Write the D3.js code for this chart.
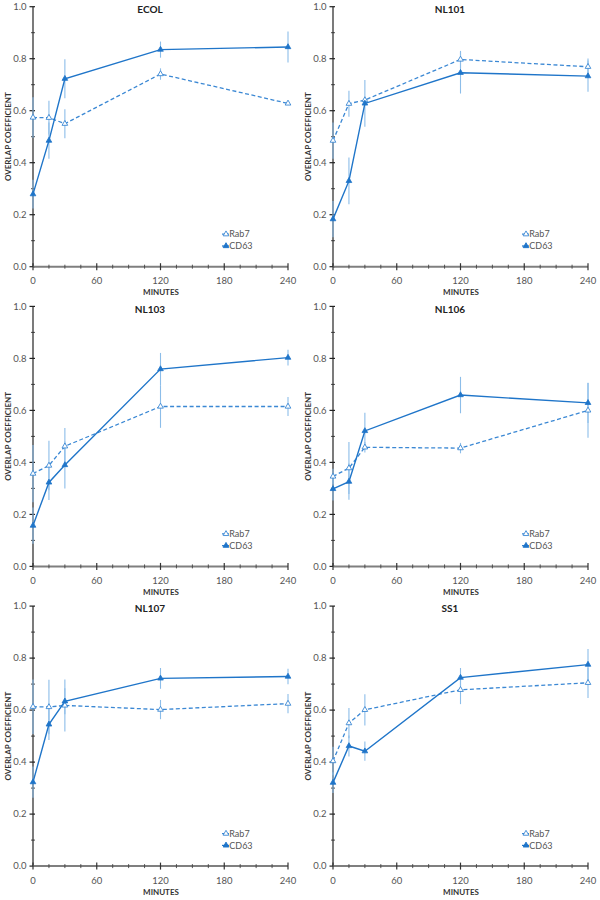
<!DOCTYPE html>
<html>
<head>
<meta charset="utf-8">
<script src="https://cdn.jsdelivr.net/npm/d3@7"></script>
<style>
  html, body { margin: 0; padding: 0; background: #fff; }
  svg { display: block; }
  text { font-family: Lato, "Open Sans", "Liberation Sans", sans-serif; }
</style>
</head>
<body>
<svg id="chart" width="600" height="900"></svg>
<script>
// ---- Data ----
const times = [0, 15, 30, 120, 240];
const panelNames = ["ECOL", "NL101", "NL103", "NL106", "NL107", "SS1"];
const seriesNames = ["Rab7", "CD63"];

const rab7Mean = [
  [0.574, 0.573, 0.550, 0.741, 0.628],
  [0.485, 0.627, 0.641, 0.797, 0.769],
  [0.357, 0.388, 0.462, 0.615, 0.615],
  [0.346, 0.378, 0.458, 0.455, 0.600],
  [0.613, 0.612, 0.618, 0.602, 0.625],
  [0.404, 0.550, 0.601, 0.678, 0.705]
];
const rab7Err = [
  [0.078, 0.065, 0.056, 0.022, 0.004],
  [0.070, 0.050, 0.010, 0.033, 0.032],
  [0.110, 0.095, 0.070, 0.082, 0.037],
  [0.030, 0.100, 0.020, 0.020, 0.105],
  [0.105, 0.105, 0.100, 0.037, 0.037],
  [0.055, 0.058, 0.060, 0.055, 0.058]
];
const cd63Mean = [
  [0.279, 0.485, 0.723, 0.835, 0.845],
  [0.183, 0.330, 0.628, 0.746, 0.733],
  [0.157, 0.323, 0.390, 0.759, 0.803],
  [0.298, 0.326, 0.521, 0.659, 0.629],
  [0.323, 0.545, 0.634, 0.722, 0.729],
  [0.321, 0.462, 0.442, 0.725, 0.775]
];
const cd63Err = [
  [0.055, 0.070, 0.075, 0.031, 0.060],
  [0.070, 0.090, 0.090, 0.080, 0.060],
  [0.070, 0.068, 0.090, 0.062, 0.030],
  [0.045, 0.070, 0.070, 0.070, 0.077],
  [0.060, 0.060, 0.050, 0.040, 0.030],
  [0.040, 0.040, 0.037, 0.037, 0.060]
];

const yTicks = [0, 0.2, 0.4, 0.6, 0.8, 1.0];
const xTicks = [0, 60, 120, 180, 240];
const yTitle = "OVERLAP COEFFICIENT";
const xTitle = "MINUTES";

// ---- Styles ----
const lineColor = "#1f75c9";
const dashColor = "#3b88d4";
const errColor = "#8cbde9";
const axisColor = "#222";
const xAxisColor = "#7f7f7f";
const labelColor = "#555";

const svg = d3.select("#chart");

panelNames.forEach((name, i) => {
  const col = i % 2, row = Math.floor(i / 2);
  const ox = col * 300;
  const top = 6.7 + row * 299.7;
  const bottom = top + 260;
  const g = svg.append("g").attr("transform", `translate(${ox},0)`);

  const x = d3.scaleLinear().domain([0, 240]).range([33, 288]);
  const y = d3.scaleLinear().domain([0, 1]).range([bottom, top]);

  // Y axis line
  g.append("line").attr("x1", 33).attr("x2", 33).attr("y1", top).attr("y2", bottom)
    .attr("stroke", axisColor).attr("stroke-width", 1.2);
  // Y minor ticks
  d3.range(0.1, 1.0, 0.2).forEach(v => {
    g.append("line").attr("x1", 31).attr("x2", 35).attr("y1", y(v)).attr("y2", y(v))
      .attr("stroke", axisColor).attr("stroke-width", 0.8);
  });
  // Y major ticks + labels
  yTicks.forEach(v => {
    g.append("line").attr("x1", 29.5).attr("x2", 35).attr("y1", y(v)).attr("y2", y(v))
      .attr("stroke", axisColor).attr("stroke-width", 1.2);
    g.append("text").attr("x", 26.5).attr("y", y(v) + 3.3).attr("text-anchor", "end")
      .attr("font-size", 9.5).attr("fill", labelColor).text(v.toFixed(1));
  });

  // X axis line
  g.append("line").attr("x1", 33).attr("x2", 288).attr("y1", bottom).attr("y2", bottom)
    .attr("stroke", xAxisColor).attr("stroke-width", 2);
  // X minor ticks
  d3.range(15, 240, 15).filter(v => v % 60 !== 0).forEach(v => {
    g.append("line").attr("x1", x(v)).attr("x2", x(v)).attr("y1", bottom - 2).attr("y2", bottom + 2)
      .attr("stroke", "#444").attr("stroke-width", 0.9);
  });
  // X major ticks + labels
  xTicks.forEach(v => {
    g.append("line").attr("x1", x(v)).attr("x2", x(v)).attr("y1", bottom - 3.5).attr("y2", bottom + 3.5)
      .attr("stroke", "#333").attr("stroke-width", 1.2);
    g.append("text").attr("x", x(v)).attr("y", bottom + 17.5).attr("text-anchor", "middle")
      .attr("font-size", 9.5).attr("fill", labelColor).text(v);
  });

  // Axis titles
  g.append("text").attr("x", 161).attr("y", bottom + 28.5).attr("text-anchor", "middle")
    .attr("font-size", 8).attr("font-weight", "bold").attr("fill", "#333").text(xTitle);
  g.append("text").attr("transform", `translate(11,${(top + bottom) / 2}) rotate(-90)`)
    .attr("text-anchor", "middle").attr("font-size", 8).attr("font-weight", "bold")
    .attr("fill", "#333").text(yTitle);

  // Panel title
  g.append("text").attr("x", 150).attr("y", top + 6.3).attr("text-anchor", "middle")
    .attr("font-size", 10).attr("font-weight", "bold").attr("fill", "#222").text(name);

  const rab = times.map((t, k) => ({ t, v: rab7Mean[i][k], e: rab7Err[i][k] }));
  const cd = times.map((t, k) => ({ t, v: cd63Mean[i][k], e: cd63Err[i][k] }));

  // Error bars
  [rab, cd].forEach(s => {
    g.selectAll(null).data(s).enter().append("line")
      .attr("x1", d => x(d.t)).attr("x2", d => x(d.t))
      .attr("y1", d => y(d.v - d.e)).attr("y2", d => y(d.v + d.e))
      .attr("stroke", errColor).attr("stroke-width", 1.1);
  });

  const line = d3.line().x(d => x(d.t)).y(d => y(d.v));
  g.append("path").datum(rab).attr("d", line).attr("fill", "none")
    .attr("stroke", dashColor).attr("stroke-width", 1.3).attr("stroke-dasharray", "4,2.5");
  g.append("path").datum(cd).attr("d", line).attr("fill", "none")
    .attr("stroke", lineColor).attr("stroke-width", 1.4);

  const tri = d3.symbol().type(d3.symbolTriangle).size(14);
  g.selectAll(null).data(rab).enter().append("path").attr("d", tri)
    .attr("transform", d => `translate(${x(d.t)},${y(d.v)})`)
    .attr("fill", "#fff").attr("stroke", dashColor).attr("stroke-width", 0.9);
  g.selectAll(null).data(cd).enter().append("path").attr("d", tri)
    .attr("transform", d => `translate(${x(d.t)},${y(d.v)})`)
    .attr("fill", lineColor).attr("stroke", lineColor).attr("stroke-width", 0.8);

  // Legend
  const ly = [top + 227.5, top + 239.3];
  seriesNames.forEach((s, k) => {
    const c = k === 0 ? dashColor : lineColor;
    g.append("line").attr("x1", 222).attr("x2", 229).attr("y1", ly[k]).attr("y2", ly[k])
      .attr("stroke", c).attr("stroke-width", 1.2).attr("stroke-dasharray", k === 0 ? "2,1" : null);
    g.append("path").attr("d", tri).attr("transform", `translate(226,${ly[k]})`)
      .attr("fill", k === 0 ? "#fff" : c).attr("stroke", c).attr("stroke-width", 0.9);
    g.append("text").attr("x", 229.3).attr("y", ly[k] + 3.2).attr("font-size", 9)
      .attr("fill", labelColor).text(s);
  });
});
</script>
</body>
</html>
